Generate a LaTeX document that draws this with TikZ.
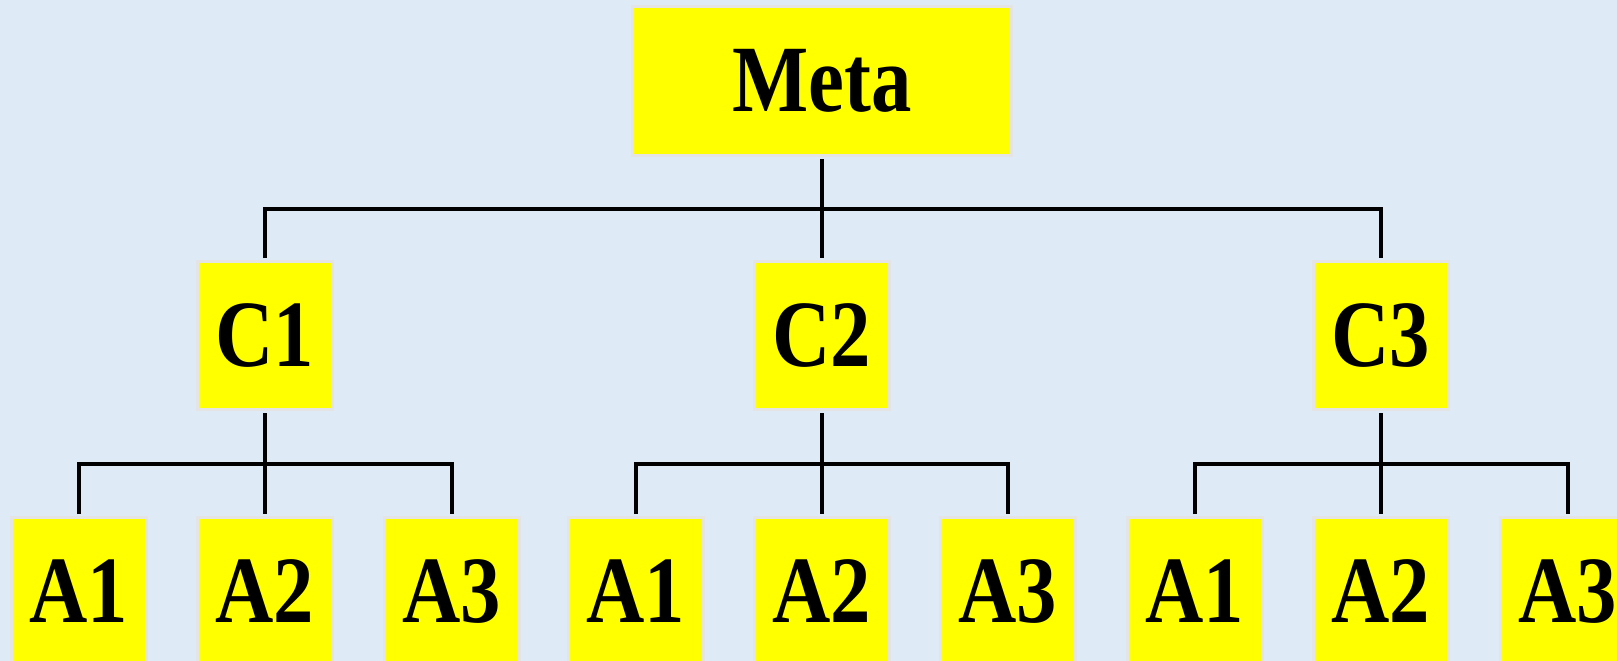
\documentclass[tikz,border=0pt]{standalone}
\usepackage{fontspec}
\setmainfont[FakeStretch=0.85]{Liberation Serif}
\definecolor{bgblue}{RGB}{222,234,246}
\definecolor{boxyellow}{RGB}{255,255,0}
\definecolor{boxedge}{RGB}{228,228,228}
\begin{document}
\begin{tikzpicture}[x=1pt,y=-1pt,
  ybox/.style={rectangle, fill=boxyellow, draw=boxedge, line width=3pt,
    inner sep=0pt, minimum width=135pt, minimum height=148pt,
    font=\fontsize{95}{95}\selectfont\bfseries},
  conn/.style={draw=black, line width=4pt, shorten <=2pt, shorten >=2pt},
  bus/.style={draw=black, line width=4pt}]
\useasboundingbox (0,0) rectangle (1617,661);
\clip (0,0) rectangle (1617,661);
\fill[bgblue] (0,0) rectangle (1617,661);

\node[ybox, minimum width=379pt, minimum height=149pt] (meta) at (822,81) {Meta};

\node[ybox] (c1) at (265,335.5) {C1};
\node[ybox] (c2) at (822,335.5) {C2};
\node[ybox] (c3) at (1381,335.5) {C3};

\node[ybox] (a11) at (78.5,591.5) {A1};
\node[ybox] (a12) at (265,591.5) {A2};
\node[ybox] (a13) at (451.5,591.5) {A3};
\node[ybox] (a21) at (636,591.5) {A1};
\node[ybox] (a22) at (822,591.5) {A2};
\node[ybox] (a23) at (1008,591.5) {A3};
\node[ybox] (a31) at (1194.5,591.5) {A1};
\node[ybox] (a32) at (1381,591.5) {A2};
\node[ybox] (a33) at (1567.5,591.5) {A3};

\coordinate (bus0) at (822,209);
\coordinate (bus1) at (265,464);
\coordinate (bus2) at (822,464);
\coordinate (bus3) at (1381,464);

% top level
\draw[conn] (meta.south) -- (c2.north);
\draw[conn] (c1.north) |- (bus0) -| (c3.north);

% second level
\draw[conn] (c1.south) -- (a12.north);
\draw[conn] (a11.north) |- (bus1) -| (a13.north);
\draw[conn] (c2.south) -- (a22.north);
\draw[conn] (a21.north) |- (bus2) -| (a23.north);
\draw[conn] (c3.south) -- (a32.north);
\draw[conn] (a31.north) |- (bus3) -| (a33.north);
\end{tikzpicture}
\end{document}
